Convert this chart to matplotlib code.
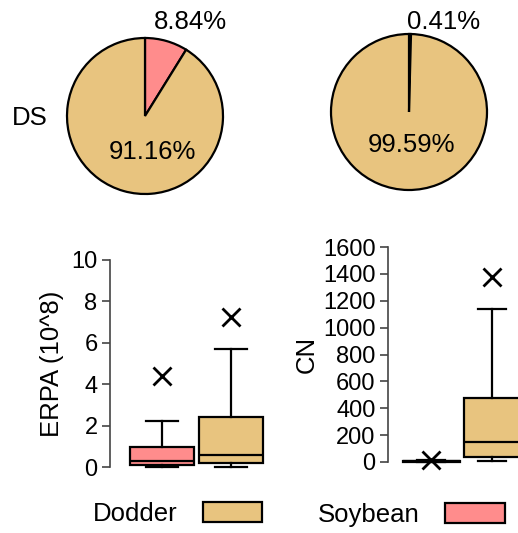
import matplotlib
matplotlib.use("Agg")
import matplotlib.pyplot as plt
from matplotlib.patches import Patch

plt.rcParams["font.family"] = ["Liberation Sans", "DejaVu Sans"]

# colores
ROSA = "#FF8C8C"
CAFE = "#E8C47F"

# tortas (porcentaje soja, porcentaje cuscuta)
torta_izq = [8.84, 91.16]
torta_der = [0.41, 99.59]

# cajas ERPA (10^8): soja, cuscuta
erpa_q1 = [0.1, 0.2]
erpa_med = [0.3, 0.6]
erpa_q3 = [0.95, 2.4]
erpa_bajo = [0.0, 0.0]
erpa_alto = [2.2, 5.7]
erpa_atip = [4.4, 7.25]

# cajas CN: soja, cuscuta
cn_q1 = [2, 40]
cn_med = [5, 150]
cn_q3 = [8, 480]
cn_bajo = [0, 5]
cn_alto = [12, 1140]
cn_atip = [15, 1380]

W, H = 518, 533
fig = plt.figure(figsize=(W / 100, H / 100), dpi=100)


def caja_px(x0, y0, x1, y1):
    # pixeles (arriba-izquierda) -> fraccion de figura
    return [x0 / W, 1 - y1 / H, (x1 - x0) / W, (y1 - y0) / H]


def torta(cx, cy, r, valores, pos_chico, pos_grande):
    ax = fig.add_axes(caja_px(cx - r, cy - r, cx + r, cy + r))
    ax.pie(valores, colors=[ROSA, CAFE], startangle=90, counterclock=False,
           wedgeprops=dict(edgecolor="black", linewidth=1.6))
    ax.set_xlim(-1, 1)
    ax.set_ylim(-1, 1)
    ax.text(*pos_chico, "%.2f%%" % valores[0], ha="center", va="center",
            fontsize=18.5, clip_on=False)
    ax.text(*pos_grande, "%.2f%%" % valores[1], ha="center", va="center",
            fontsize=18.5)
    return ax


torta(145, 116, 78, torta_izq, (0.58, 1.2), (0.1, -0.46))
torta(409, 112, 78, torta_der, (0.44, 1.15), (0.03, -0.42))
fig.text(30 / W, 1 - 118 / H, "DS", ha="center", va="center", fontsize=18.5)


def cajas(ax, q1, med, q3, bajo, alto, atip):
    stats = []
    for i in range(2):
        stats.append(dict(q1=q1[i], med=med[i], q3=q3[i], whislo=bajo[i],
                          whishi=alto[i], fliers=[atip[i]]))
    bp = ax.bxp(stats, positions=[1, 2], widths=0.93, patch_artist=True,
                showcaps=True,
                boxprops=dict(linewidth=1.6, edgecolor="black"),
                medianprops=dict(color="black", linewidth=1.6),
                whiskerprops=dict(color="black", linewidth=1.6, linestyle="-"),
                capprops=dict(color="black", linewidth=1.6),
                capwidths=0.46,
                flierprops=dict(marker="x", markersize=13, markeredgewidth=2,
                                markeredgecolor="black"))
    for caja, color in zip(bp["boxes"], [ROSA, CAFE]):
        caja.set_facecolor(color)
    for s in ["top", "right", "bottom"]:
        ax.spines[s].set_visible(False)
    ax.spines["left"].set_color("#444444")
    ax.spines["left"].set_linewidth(1.2)
    ax.set_xticks([])
    ax.tick_params(axis="y", labelsize=17, length=6, width=1.2,
                   color="#444444", pad=3)
    ax.patch.set_visible(False)


# ERPA
ax1 = fig.add_axes(caja_px(110, 251.7, 275, 475.3))
cajas(ax1, erpa_q1, erpa_med, erpa_q3, erpa_bajo, erpa_alto, erpa_atip)
ax1.set_xlim(0.246, 2.64)
ax1.set_ylim(-0.4, 10.4)
ax1.set_yticks([0, 2, 4, 6, 8, 10])
ax1.spines["left"].set_bounds(0, 10)
ax1.set_ylabel("ERPA (10^8)", fontsize=18.5, labelpad=5)

# CN
ax2 = fig.add_axes(caja_px(388, 238.4, 518, 470.6))
cajas(ax2, cn_q1, cn_med, cn_q3, cn_bajo, cn_alto, cn_atip)
ax2.set_xlim(0.287, 2.42)
ax2.set_ylim(-64, 1664)
ax2.set_yticks(range(0, 1601, 200))
ax2.spines["left"].set_bounds(0, 1600)
ax2.set_ylabel("CN", fontsize=18.5, labelpad=3)

# leyendas
for nombre, color, x, y in [("Dodder", CAFE, 93, 514), ("Soybean", ROSA, 318, 515)]:
    fig.legend(handles=[Patch(facecolor=color, edgecolor="black", linewidth=1.6,
                              label=nombre)],
               loc="center left", bbox_to_anchor=(x / W, 1 - y / H),
               frameon=False, markerfirst=False, fontsize=18.5,
               handlelength=2.3, handleheight=0.8, handletextpad=1.0,
               borderpad=0, borderaxespad=0)

fig.savefig("out.png", dpi=100)
